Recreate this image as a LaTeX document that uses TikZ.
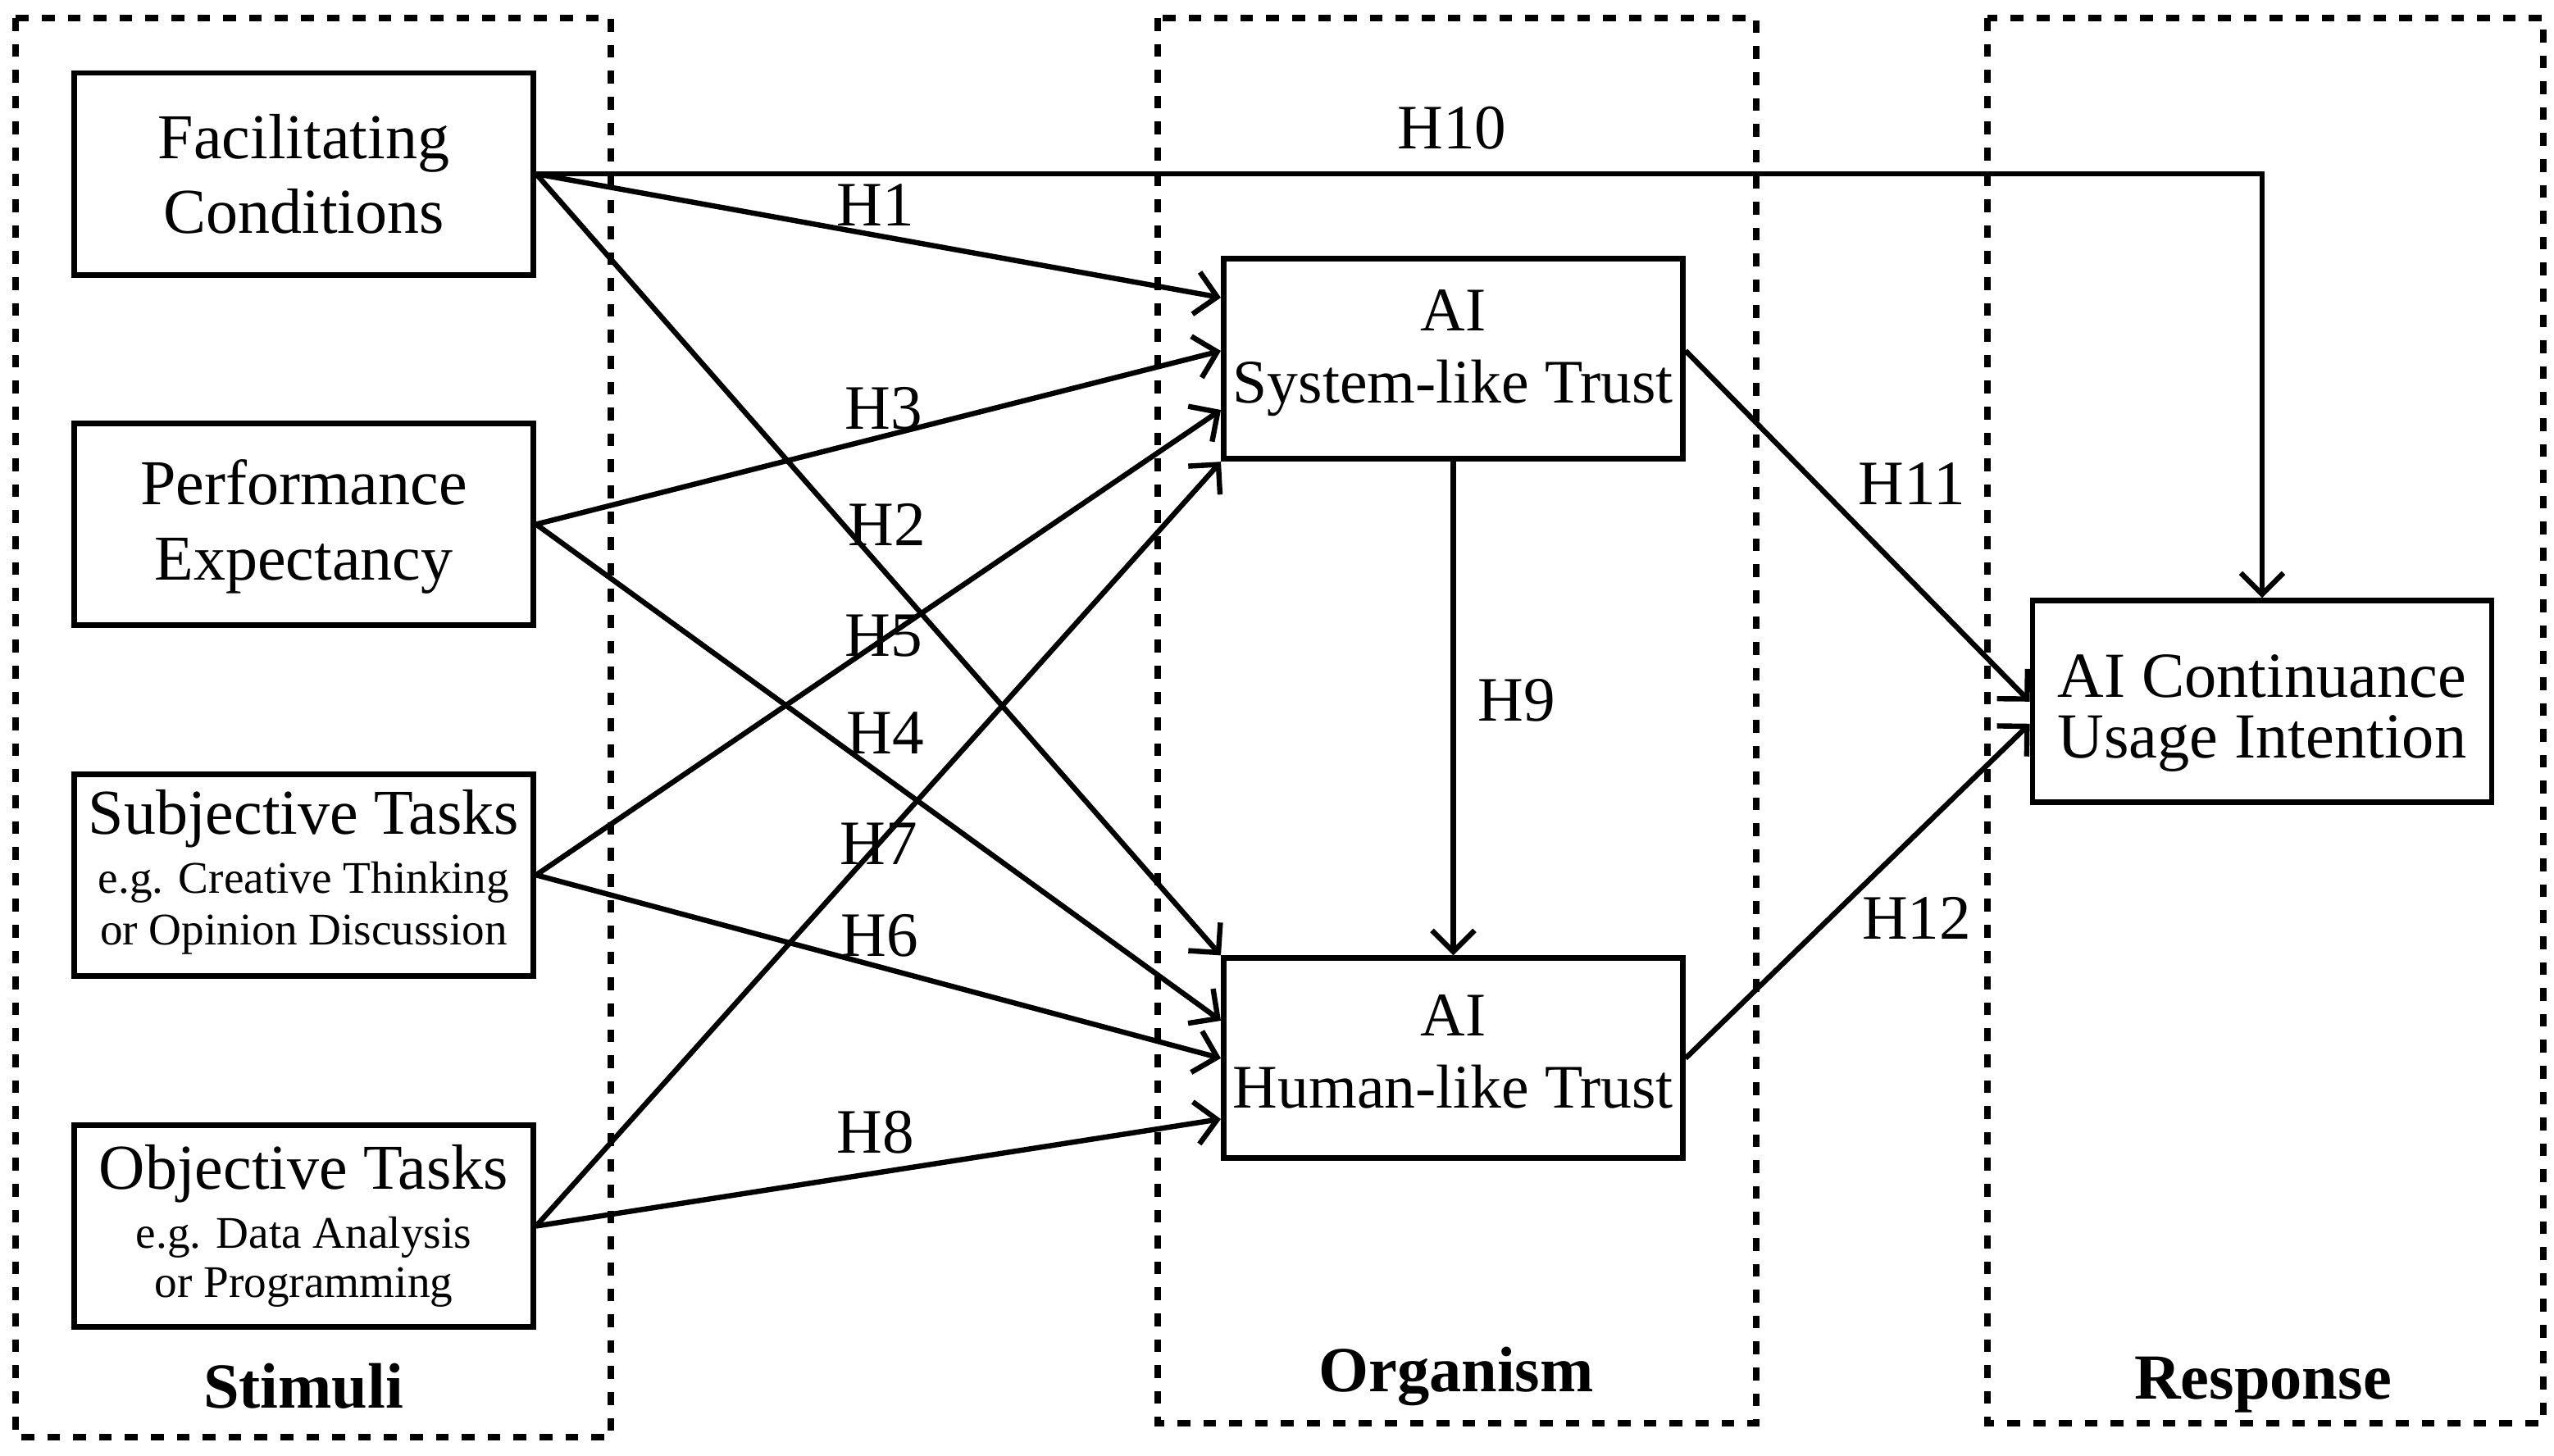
\documentclass[tikz,border=0pt]{standalone}
\usepackage{fontspec}
\setmainfont{Liberation Serif}
\usetikzlibrary{arrows.meta,calc}
\begin{document}
\begin{tikzpicture}[x=0.5pt,y=-0.5pt,
  frame/.style={line width=1.85pt,dash pattern=on 3.9pt off 4pt},
  box/.style={draw,line width=1.7pt,minimum width=140pt,minimum height=61.5pt,inner sep=0pt,align=center},
  stimbox/.style={box,font=\fontsize{19.5}{22.7}\selectfont},
  taskbox/.style={box,font=\fontsize{19.5}{18}\selectfont},
  orgbox/.style={box,minimum height=61pt,font=\fontsize{18.9}{22}\selectfont},
  respbox/.style={box,font=\fontsize{19.6}{18.5}\selectfont},
  small/.style={},
  link/.style={line width=1.6pt,-{Straight Barb[length=6.5pt,width=13pt]}},
  hlab/.style={font=\fontsize{19.3}{23}\selectfont,inner sep=0pt},
  title/.style={font=\fontsize{19.6}{23}\selectfont\bfseries,anchor=base,inner sep=0pt}
]
\newcommand{\smalltxt}{\fontsize{13.8}{16}\selectfont}
\fill[white] (0,0) rectangle (1557.5,888);
\useasboundingbox (0,0) rectangle (1557.5,888);

% frames
\draw[frame] (9.5,11) rectangle (372.5,876.5);
\draw[frame] (706,11) rectangle (1071,868);
\draw[frame] (1212,11) rectangle (1551,868);

% boxes
\node[stimbox] (FC) at (185.25,106.05) {Facilitating\\Conditions};
\node[stimbox,font=\fontsize{19.5}{23}\selectfont] (PE) at (185.25,319.75) {\rule{0pt}{15pt}Performance\\Expectancy};
\node[taskbox] (ST) at (185.25,533.65) {Subjective Tasks\\{\smalltxt e.g. Creative Thinking}\\[-2.25pt]{\smalltxt or Opinion Discussion\rule[-4.65pt]{0pt}{4.65pt}}};
\node[taskbox] (OT) at (185.25,747.75) {Objective Tasks\\{\smalltxt e.g. Data Analysis}\\[-2.85pt]{\smalltxt or Programming}};
\node[orgbox] (SLT) at (886.2,218.9) {AI\\System-like Trust\rule[-7.5pt]{0pt}{7.5pt}};
\node[orgbox] (HLT) at (886.2,645.4) {AI\\Human-like Trust\rule[-4.1pt]{0pt}{4.1pt}};
\node[respbox] (CUI) at (1379.5,427.9) {\rule{0pt}{20.2pt}AI Continuance\\Usage Intention};

% connectors
\draw[link] (FC.east) -| (CUI.north);
\draw[link] (FC.east) -- ($(SLT.west)+(0,-37.4)$);
\draw[link] (FC.east) -- (HLT.north west);
\draw[link] (PE.east) -- ($(SLT.west)+(0,-4.9)$);
\draw[link] (PE.east) -- ($(HLT.west)+(0,-22.9)$);
\draw[link] (ST.east) -- ($(SLT.west)+(0,31.1)$);
\draw[link] (ST.east) -- (HLT.west);
\draw[link] (OT.east) -- (SLT.south west);
\draw[link] (OT.east) -- ($(HLT.west)+(0,37.1)$);
\draw[link] (SLT.south) -- (HLT.north);
\draw[link] ($(SLT.east)+(0,-5)$) -- (CUI.west);
\draw[link] (HLT.east) -- ($(CUI.west)+(0,13.5)$);

% hypothesis labels
\node[hlab] (l1) at (534,125) {H1};
\node[hlab] (l2) at (541,320) {H2};
\node[hlab] (l3) at (539,249) {H3};
\node[hlab] (l4) at (540,447) {H4};
\node[hlab] (l5) at (539,388) {H5};
\node[hlab] (l6) at (536.5,570.5) {H6};
\node[hlab] (l7) at (536,514.5) {H7};
\node[hlab] (l8) at (534,690.5) {H8};
\node[hlab] (l9) at (925,427) {H9};
\node[hlab] (l10) at (885.4,78) {H10};
\node[hlab] (l11) at (1166,295.2) {H11};
\node[hlab] (l12) at (1168.8,560) {H12};

% titles
\node[title] (tS) at (185,858.6) {Stimuli};
\node[title] (tO) at (888,848.5) {Organism};
\node[title] (tR) at (1380,853) {Response};
\end{tikzpicture}
\end{document}
